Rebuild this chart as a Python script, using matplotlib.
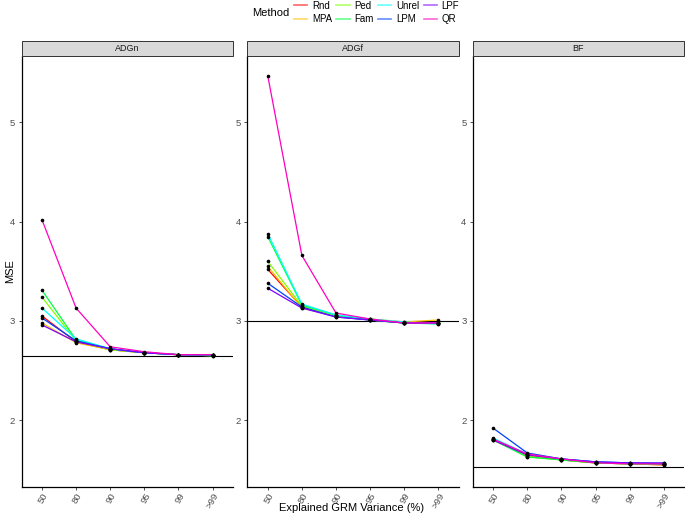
from matplotlib import pyplot as plt
from matplotlib.lines import Line2D
from matplotlib.patches import Rectangle

plt.rcParams['font.family'] = ['Liberation Sans', 'DejaVu Sans']

# data
methods = ["Rnd", "MPA", "Ped", "Fam", "Unrel", "LPM", "LPF", "QR"]
colors = ["#FF0000", "#FFBF00", "#80FF00", "#00FF40",
          "#00FFFF", "#0040FF", "#8000FF", "#FF00BF"]
variance = ["50", "80", "90", "95", "99", ">99"]
traits = ["ADGn", "ADGf", "BF"]

adgn = {
    "Rnd":   [3.05, 2.79, 2.71, 2.68, 2.66, 2.66],
    "MPA":   [2.98, 2.78, 2.71, 2.68, 2.66, 2.66],
    "Ped":   [3.24, 2.80, 2.71, 2.68, 2.66, 2.65],
    "Fam":   [3.31, 2.81, 2.72, 2.68, 2.66, 2.65],
    "Unrel": [3.13, 2.82, 2.72, 2.68, 2.66, 2.66],
    "LPM":   [3.03, 2.80, 2.72, 2.68, 2.66, 2.66],
    "LPF":   [2.96, 2.79, 2.72, 2.68, 2.66, 2.66],
    "QR":    [4.02, 3.13, 2.74, 2.69, 2.66, 2.66],
}
adgf = {
    "Rnd":   [3.52, 3.14, 3.05, 3.01, 2.98, 2.98],
    "MPA":   [3.55, 3.13, 3.05, 3.02, 2.99, 3.01],
    "Ped":   [3.60, 3.15, 3.05, 3.01, 2.98, 2.98],
    "Fam":   [3.85, 3.16, 3.06, 3.01, 2.98, 2.97],
    "Unrel": [3.88, 3.17, 3.06, 3.02, 2.99, 2.97],
    "LPM":   [3.38, 3.14, 3.04, 3.01, 2.98, 2.98],
    "LPF":   [3.33, 3.13, 3.04, 3.01, 2.98, 2.98],
    "QR":    [5.47, 3.66, 3.08, 3.02, 2.98, 2.98],
}
bf = {
    "Rnd":   [1.81, 1.65, 1.60, 1.57, 1.56, 1.55],
    "MPA":   [1.80, 1.64, 1.60, 1.57, 1.56, 1.55],
    "Ped":   [1.81, 1.63, 1.60, 1.57, 1.56, 1.56],
    "Fam":   [1.80, 1.63, 1.60, 1.57, 1.56, 1.56],
    "Unrel": [1.82, 1.66, 1.61, 1.58, 1.57, 1.57],
    "LPM":   [1.92, 1.67, 1.61, 1.58, 1.57, 1.56],
    "LPF":   [1.80, 1.65, 1.61, 1.58, 1.57, 1.57],
    "QR":    [1.81, 1.66, 1.61, 1.57, 1.56, 1.56],
}
baseline = [2.65, 3.00, 1.53]
panels = [adgn, adgf, bf]

fig = plt.figure(figsize=(6.85, 5.17), dpi=100)

W, H = 685, 517
lefts = [21.5, 247.3, 472.7]
pw = 211.5
ptop, pbot = 56, 486.7
strip_h = 14.5

x = list(range(1, len(variance) + 1))
for k in range(3):
    ax = fig.add_axes([lefts[k] / W, 1 - pbot / H, pw / W, (pbot - ptop) / H])
    data = panels[k]
    ax.axhline(baseline[k], color="black", lw=0.8, zorder=1)
    for m, c in zip(methods, colors):
        ax.plot(x, data[m], color=c, lw=0.9, zorder=2)
    for m in methods:
        ax.plot(x, data[m], "o", color="black", ms=2.6, mew=0, zorder=3)
    ax.set_xlim(0.4, 6.6)
    ax.set_ylim(1.33, 5.67)
    ax.set_yticks([2, 3, 4, 5])
    ax.set_xticks(x)
    ax.set_xticklabels(variance, rotation=60, ha="right", va="top",
                       rotation_mode="anchor")
    ax.tick_params(axis="both", labelsize=6.8, labelcolor="#4D4D4D",
                   length=2.5, width=0.6, color="#333333", pad=2)
    ax.tick_params(axis="x", pad=1)
    for s in ["top", "right"]:
        ax.spines[s].set_visible(False)
    for s in ["left", "bottom"]:
        ax.spines[s].set_linewidth(0.9)

    # facet strip
    fig.patches.append(Rectangle((lefts[k] / W, 1 - ptop / H), pw / W, strip_h / H,
                                 transform=fig.transFigure, facecolor="#D9D9D9",
                                 edgecolor="#333333", lw=0.7))
    fig.text((lefts[k] + pw / 2) / W, 1 - (ptop - strip_h / 2) / H, traits[k],
             ha="center", va="center", fontsize=6.5, color="#1A1A1A")

fig.text(10 / W, 1 - 271 / H, "MSE", rotation=90, ha="center", va="center",
         fontsize=8)
fig.text(352 / W, 1 - 508 / H, "Explained GRM Variance (%)", ha="center",
         va="center", fontsize=8)

# legend
handles = [Line2D([0], [0], color=c, lw=1.2, alpha=0.6) for c in colors]
fig.legend(handles, methods, loc="center left", ncol=4, frameon=False,
           bbox_to_anchor=(294 / W, 1 - 12.5 / H), fontsize=7,
           handlelength=1.35, handletextpad=0.5, columnspacing=0.45,
           labelspacing=0.4, borderpad=0, borderaxespad=0)
fig.text(271 / W, 1 - 12.5 / H, "Method", ha="center", va="center", fontsize=8)

plt.savefig("out.png", dpi=100)
